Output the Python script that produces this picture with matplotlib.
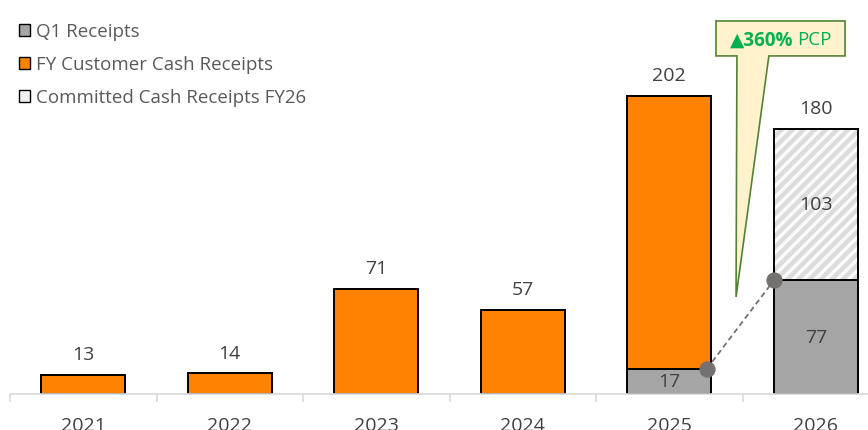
import matplotlib.pyplot as plt
import matplotlib.patches as mpatches
import numpy as np

plt.rcParams['font.family'] = ['Open Sans', 'DejaVu Sans']
plt.rcParams['hatch.linewidth'] = 3.2

# data
years = ['2021', '2022', '2023', '2024', '2025', '2026']
q1 = [0, 0, 0, 0, 17, 77]
fy = [13, 14, 71, 57, 185, 0]
committed = [0, 0, 0, 0, 0, 103]
totals = [13, 14, 71, 57, 202, 180]
pcp_label = '360%'

GREY = '#a5a5a5'
ORANGE = '#ff8200'
TXT = '#404040'

fig = plt.figure(figsize=(8.68, 4.31), dpi=100)
# axes runs a bit past the right edge, like the original
ax = fig.add_axes([10 / 868, 36 / 431, 879 / 868, 383.5 / 431])

x = np.arange(len(years))
w = 0.573
q1 = np.array(q1)
fy = np.array(fy)
committed = np.array(committed)

ax.bar(x, q1, w, color=GREY, edgecolor='black', linewidth=1.4, zorder=2)
ax.bar(x, fy, w, bottom=q1, color=ORANGE, edgecolor='black', linewidth=1.4, zorder=2)
# hatch colour follows edgecolor, so draw the fill and the outline separately
ax.bar(x, committed, w, bottom=q1 + fy, color='#fbfbfb', hatch='///',
       edgecolor='#dcdcdc', linewidth=0, zorder=2)
ax.bar(x, committed, w, bottom=q1 + fy, fill=False,
       edgecolor='black', linewidth=1.4, zorder=2)

# labels
for i, t in enumerate(totals):
    ax.text(x[i], t + 8, str(t), ha='center', va='bottom', fontsize=14, color=TXT)
for i in range(len(years)):
    if q1[i] > 0:
        ax.text(x[i], q1[i] / 2, str(q1[i]), ha='center', va='center',
                fontsize=14, color=TXT, zorder=3)
    if committed[i] > 0:
        ax.text(x[i], q1[i] + fy[i] + committed[i] / 2, str(committed[i]), ha='center',
                va='center', fontsize=14, color=TXT, zorder=3)

# dashed connector between Q1 values
x0, x1 = x[4] + w / 2 - 0.03, x[5] - w / 2
ax.plot([x0, x1], [q1[4], q1[5]], ls=(0, (3, 2)), color='#767171', lw=1.3, zorder=4)
ax.scatter([x0, x1], [q1[4], q1[5]], s=115, color='#767171', zorder=5)

# callout
bx0, bx1, by0, by1 = 4.319, 5.2, 229.2, 252.9
callout = mpatches.Polygon([(bx0, by0), (4.462, by0), (4.456, 65.8), (4.68, by0),
                            (bx1, by0), (bx1, by1), (bx0, by1)], closed=True,
                           facecolor='#fff2cc', edgecolor='#548235', lw=1.2, zorder=6,
                           clip_on=False)
ax.add_patch(callout)
ax.text(4.85, 240.5, '▲' + pcp_label, ha='right', va='center', fontsize=13.5,
        fontweight='bold', color='#00b050', zorder=7)
ax.text(4.875, 240.5, 'PCP', ha='left', va='center', fontsize=13.5,
        color='#00b050', zorder=7)

# axes styling
ax.set_xlim(-0.5, 5.5)
ax.set_ylim(0, 260)
ax.set_yticks([])
for s in ['left', 'right', 'top']:
    ax.spines[s].set_visible(False)
ax.spines['bottom'].set_color('#d9d9d9')
ax.spines['bottom'].set_linewidth(1.2)
ax.set_xticks(x)
ax.set_xticklabels(years, fontsize=14, color=TXT)
ax.tick_params(axis='x', length=0, pad=15.5)
ax.set_xticks(np.arange(-0.5, 6, 1), minor=True)
ax.tick_params(axis='x', which='minor', length=6, color='#d9d9d9', width=1.2)

handles = [
    mpatches.Patch(facecolor=GREY, edgecolor='black', label='Q1 Receipts'),
    mpatches.Patch(facecolor=ORANGE, edgecolor='black', label='FY Customer Cash Receipts'),
    mpatches.Patch(facecolor='#f2f2f2', edgecolor='black', label='Committed Cash Receipts FY26'),
]
leg = fig.legend(handles=handles, loc='upper left', bbox_to_anchor=(0.013, 0.963),
                 frameon=False, fontsize=13.5, handlelength=0.62, handleheight=0.62,
                 handletextpad=0.3, labelspacing=0.8, borderaxespad=0)
for t in leg.get_texts():
    t.set_color('#595959')

plt.savefig('out.png', dpi=100)
